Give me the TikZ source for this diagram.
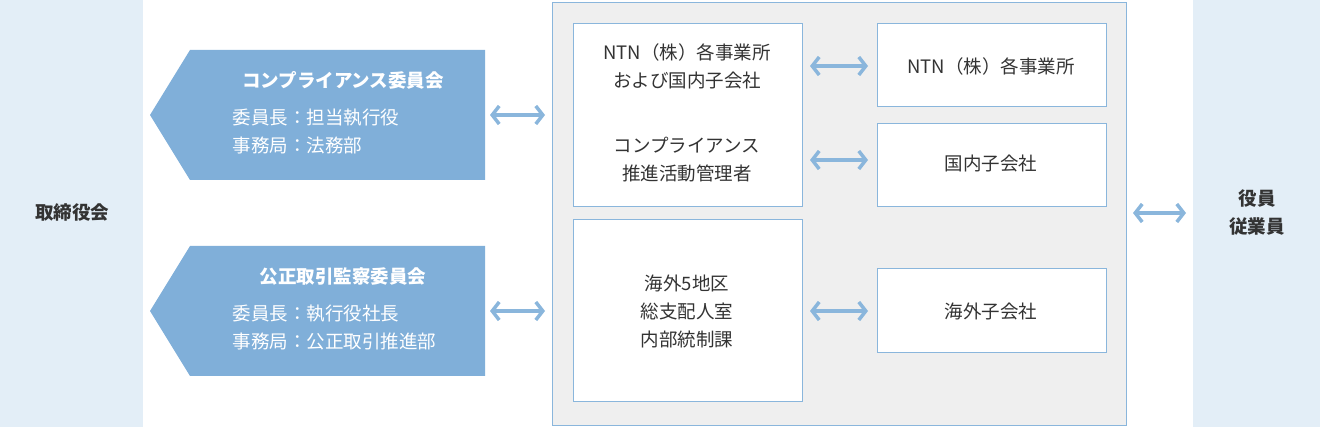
\documentclass[tikz,border=0pt]{standalone}
\usepackage{fontspec}
\setmainfont{Noto Sans CJK JP}
\usetikzlibrary{arrows.meta}
\definecolor{pale}{HTML}{E3EEF7}
\definecolor{pent}{HTML}{80AFD9}
\definecolor{arr}{HTML}{8AB6DC}
\definecolor{gbox}{HTML}{EFEFEF}
\definecolor{txt}{HTML}{333333}
\begin{document}
\begin{tikzpicture}[x=1pt,y=-1pt,font=\fontsize{18.5}{28}\selectfont,text=txt,
  wbox/.style={draw=arr,fill=white,line width=0.8pt},
  dbl/.style={draw=arr,line width=3.5pt,{Straight Barb[length=7pt,width=18pt]}-{Straight Barb[length=7pt,width=18pt]}},
  bold/.style={font=\fontsize{18.5}{28}\selectfont\bfseries}]
\useasboundingbox (0,0) rectangle (1320,427);
\fill[pale] (0,0) rectangle (143,427);
\fill[pale] (1193,0) rectangle (1320,427);
\node[bold] (board) at (72,213) {取締役会};
\node[bold,align=center] (staff) at (1257,213) {役員\\従業員};
% pentagons
\fill[pent] (485,50) -- (190,50) -- (150,115) -- (190,180) -- (485,180) -- cycle;
\fill[pent] (485,246) -- (190,246) -- (150,311) -- (190,376) -- (485,376) -- cycle;
\node[bold,text=white] (c1) at (343,80) {コンプライアンス委員会};
\node[text=white,anchor=west,align=left] (c1t) at (229,131) {委員長：担当執行役\\事務局：法務部};
\node[bold,text=white] (c2) at (343,277) {公正取引監察委員会};
\node[text=white,anchor=west,align=left] (c2t) at (229,328) {委員長：執行役社長\\事務局：公正取引推進部};
% gray container
\draw[fill=gbox,draw=arr,line width=0.8pt] (552,2) rectangle (1126,425);
\draw[wbox] (573,23) rectangle (802,206);
\draw[wbox] (573,219) rectangle (802,401);
\draw[wbox] (877,23) rectangle (1106,106);
\draw[wbox] (877,123) rectangle (1106,206);
\draw[wbox] (877,268) rectangle (1106,352);
\node[align=center] (a1) at (687,66) {NTN（株）各事業所\\および国内子会社};
\node[align=center] (a2) at (687,160) {コンプライアンス\\推進活動管理者};
\node[align=center] (a3) at (687,311) {海外5地区\\総支配人室\\内部統制課};
\node (b1) at (991,66) {NTN（株）各事業所};
\node (b2) at (991,164) {国内子会社};
\node (b3) at (991,311) {海外子会社};
\coordinate (l1) at (490,115); \coordinate (r1) at (545,115);
\coordinate (l2) at (490,311); \coordinate (r2) at (545,311);
\draw[dbl] (l1) -- (r1);
\draw[dbl] (l2) -- (r2);
\draw[dbl] (810,66) -- (868,66);
\draw[dbl] (810,160) -- (868,160);
\draw[dbl] (810,311) -- (868,311);
\draw[dbl] (1133,213) -- (1186,213);
\end{tikzpicture}
\end{document}
